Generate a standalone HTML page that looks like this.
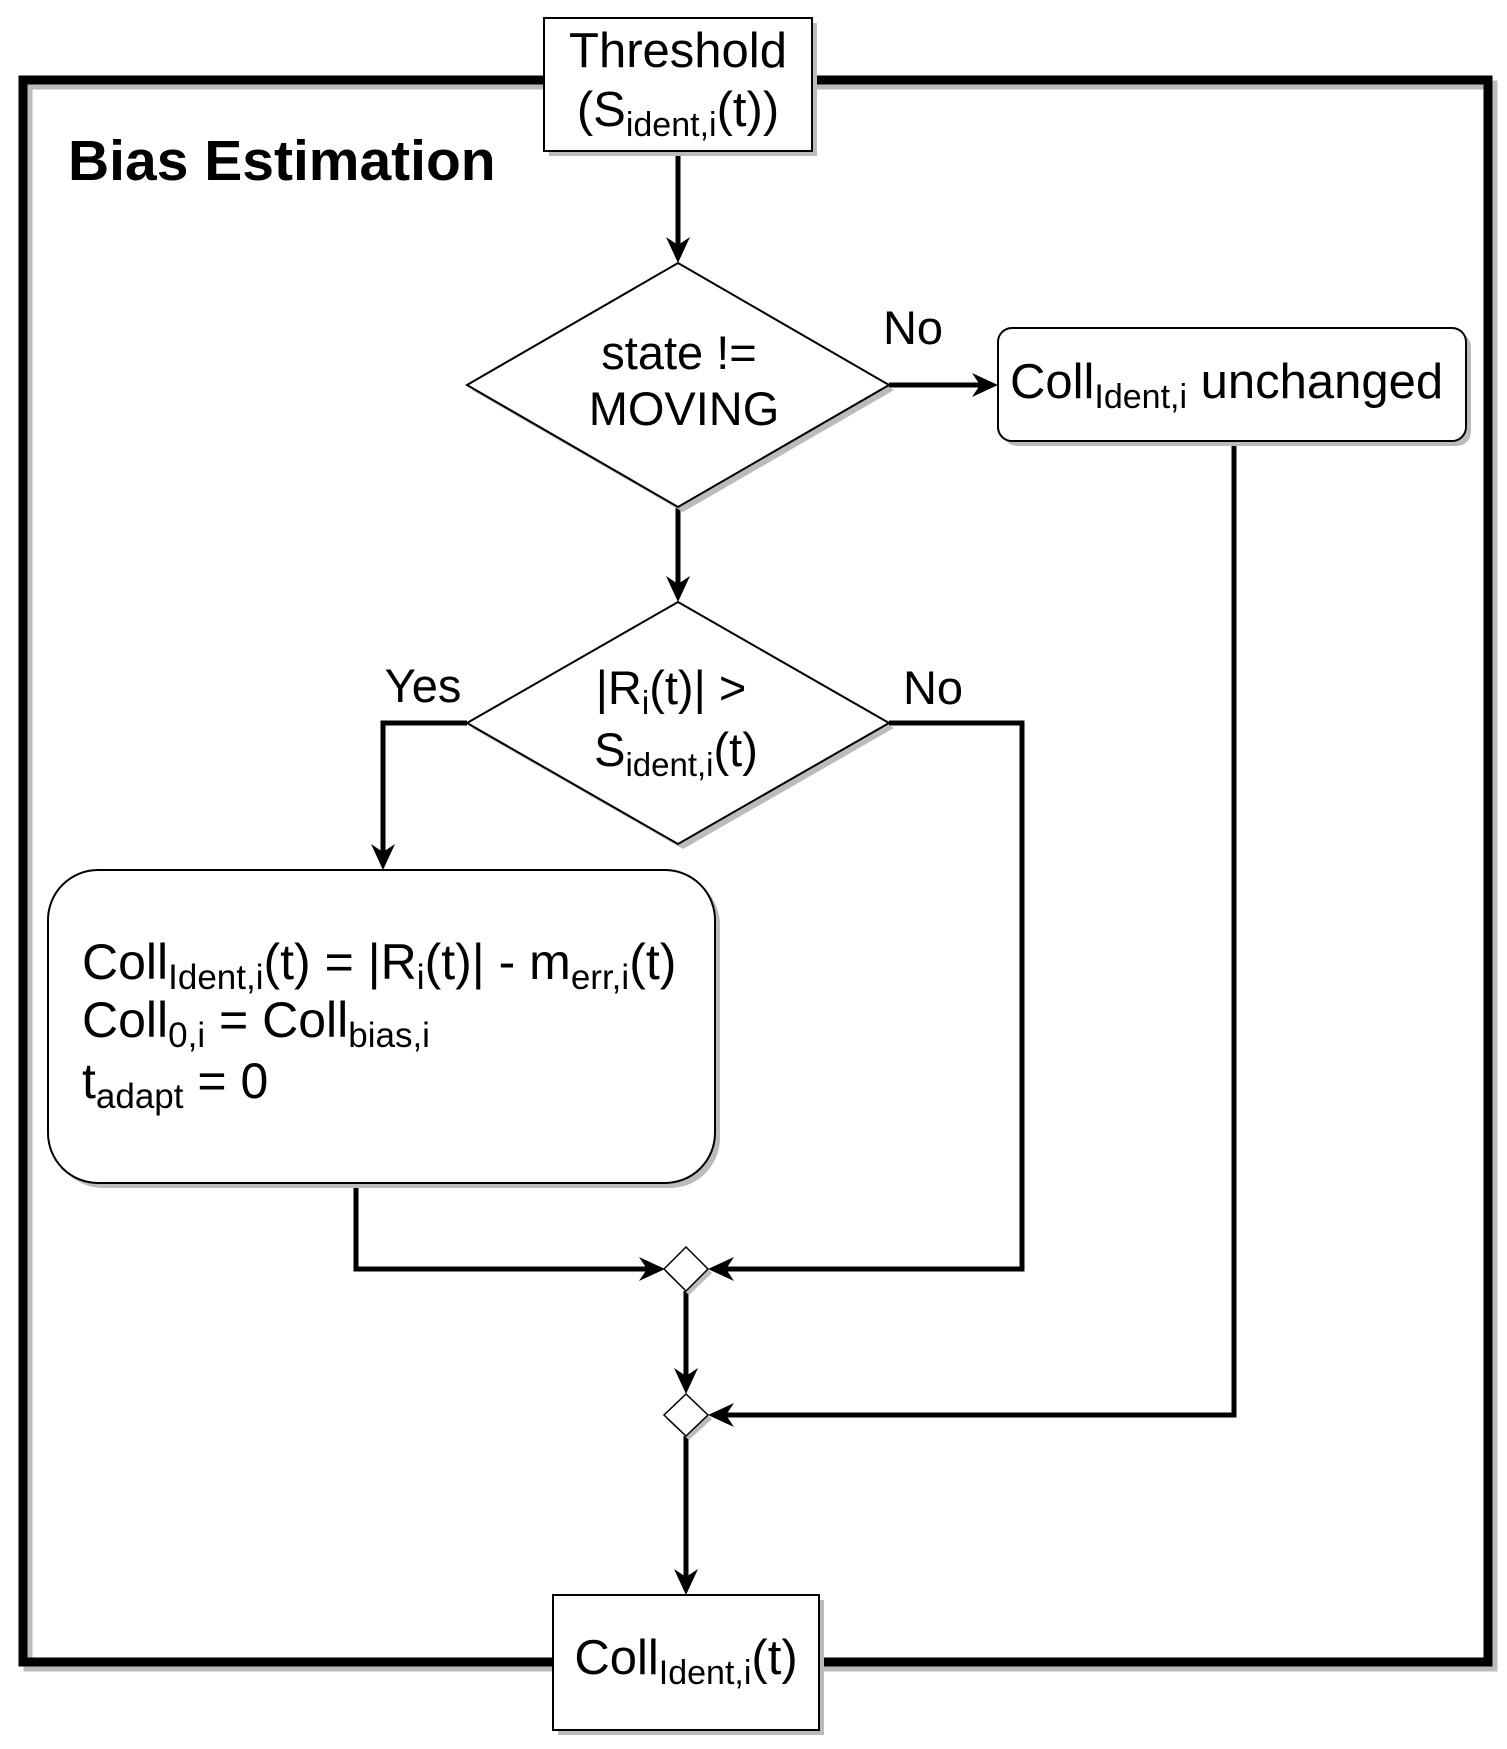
<!DOCTYPE html>
<html><head><meta charset="utf-8"><style>
html,body{margin:0;padding:0;background:#fff;}
svg{display:block;}
text{font-family:"Liberation Sans",Arial,sans-serif;fill:#000;}
</style></head><body>
<svg width="1507" height="1749" viewBox="0 0 1507 1749" xmlns="http://www.w3.org/2000/svg">
<rect x="28" y="85" width="1465" height="1582" fill="none" stroke="#bbb" stroke-width="9"/>
<rect x="23" y="80" width="1465" height="1582" fill="none" stroke="#000" stroke-width="9"/>

<text x="68" y="180" font-size="57" font-weight="bold">Bias Estimation</text>

<g stroke="#000" stroke-width="5" fill="none">
<path d="M678 151 V250"/>
<path d="M889 385 H985"/>
<path d="M678 507 V590"/>
<path d="M467 723 H383 V858"/>
<path d="M889 723 H1022 V1269 H720"/>
<path d="M356 1183 V1269 H653"/>
<path d="M686 1291 V1382"/>
<path d="M1234 441 V1415 H720"/>
<path d="M686 1436 V1583"/>
</g>
<g fill="#000">
<polygon points="678,263 666,237 678,245 690,237"/>
<polygon points="998,385 972,373 980,385 972,397"/>
<polygon points="678,602 666,576 678,584 690,576"/>
<polygon points="383,870 371,844 383,852 395,844"/>
<polygon points="708,1269 734,1257 726,1269 734,1281"/>
<polygon points="665,1269 639,1257 647,1269 639,1281"/>
<polygon points="686,1394 674,1368 686,1376 698,1368"/>
<polygon points="708,1415 734,1403 726,1415 734,1427"/>
<polygon points="686,1595 674,1569 686,1577 698,1569"/>
</g>

<rect x="549" y="23" width="268" height="133" fill="#bbb"/>
<rect x="544" y="18" width="268" height="133" fill="#fff" stroke="#000" stroke-width="2"/>
<text x="678" y="67" font-size="49" text-anchor="middle">Threshold</text>
<text x="678" y="126" font-size="49" text-anchor="middle">(S<tspan font-size="34" dy="10">ident,i</tspan><tspan dy="-10">(t))</tspan></text>

<polygon points="683,268 894,390 683,512 472,390" fill="#bbb"/>
<polygon points="678,263 889,385 678,507 467,385" fill="#fff" stroke="#000" stroke-width="2"/>
<text x="679" y="369" font-size="47" text-anchor="middle">state !=</text>
<text x="684" y="425" font-size="47" text-anchor="middle">MOVING</text>
<text x="913" y="344" font-size="47" text-anchor="middle">No</text>

<rect x="1003" y="333" width="468" height="113" rx="14" fill="#bbb"/>
<rect x="998" y="328" width="468" height="113" rx="14" fill="#fff" stroke="#000" stroke-width="2"/>
<text x="1010" y="398" font-size="49">Coll<tspan font-size="34" dy="10">Ident,i</tspan><tspan dy="-10"> unchanged</tspan></text>

<polygon points="683,607 894,728 683,849 472,728" fill="#bbb"/>
<polygon points="678,602 889,723 678,844 467,723" fill="#fff" stroke="#000" stroke-width="2"/>
<text x="671" y="704" font-size="47" text-anchor="middle">|R<tspan font-size="33" dy="10">i</tspan><tspan dy="-10">(t)| &gt;</tspan></text>
<text x="676" y="766" font-size="47" text-anchor="middle">S<tspan font-size="33" dy="10">ident,i</tspan><tspan dy="-10">(t)</tspan></text>
<text x="423" y="702" font-size="47" text-anchor="middle">Yes</text>
<text x="933" y="704" font-size="47" text-anchor="middle">No</text>

<rect x="53" y="875" width="667" height="313" rx="50" fill="#bbb"/>
<rect x="48" y="870" width="667" height="313" rx="50" fill="#fff" stroke="#000" stroke-width="2"/>
<text x="82" y="979" font-size="50">Coll<tspan font-size="35" dy="10">Ident,i</tspan><tspan dy="-10">(t) = |R</tspan><tspan font-size="35" dy="10">i</tspan><tspan dy="-10">(t)| - m</tspan><tspan font-size="35" dy="10">err,i</tspan><tspan dy="-10">(t)</tspan></text>
<text x="82" y="1037" font-size="50">Coll<tspan font-size="35" dy="10">0,i</tspan><tspan dy="-10"> = Coll</tspan><tspan font-size="35" dy="10">bias,i</tspan></text>
<text x="82" y="1098" font-size="50">t<tspan font-size="35" dy="10">adapt</tspan><tspan dy="-10"> = 0</tspan></text>

<polygon points="689,1251 712,1273 689,1295 666,1273" fill="#bbb"/>
<polygon points="686,1247 708,1269 686,1291 664,1269" fill="#fff" stroke="#000" stroke-width="1.5"/>
<polygon points="689,1398 712,1419 689,1440 666,1419" fill="#bbb"/>
<polygon points="686,1394 708,1415 686,1436 664,1415" fill="#fff" stroke="#000" stroke-width="1.5"/>

<rect x="558" y="1600" width="266" height="135" fill="#bbb"/>
<rect x="553" y="1595" width="266" height="135" fill="#fff" stroke="#000" stroke-width="2"/>
<text x="686" y="1674" font-size="49" text-anchor="middle">Coll<tspan font-size="34" dy="10">Ident,i</tspan><tspan dy="-10">(t)</tspan></text>
</svg>
</body></html>
